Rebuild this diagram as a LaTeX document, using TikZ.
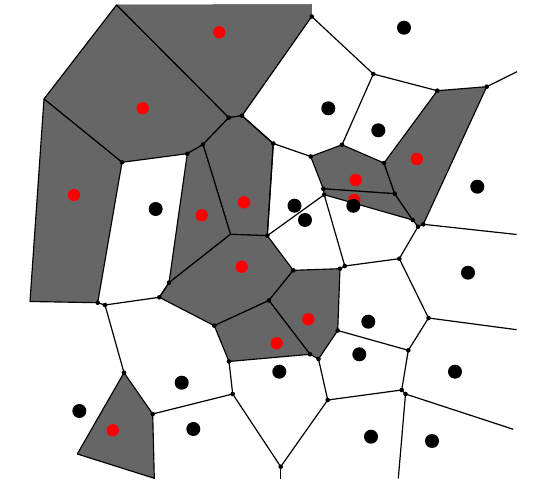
\documentclass[tikz,border=0pt]{standalone}
\definecolor{cellgray}{RGB}{102,102,102}
\definecolor{sitered}{RGB}{255,0,0}
\tikzset{
  cell/.style={fill=cellgray,draw=black,line width=1.15pt,line join=round},
  edge/.style={draw=black,line width=1.2pt},
  vdot/.style={fill=black},
  redsite/.style={fill=sitered},
  blacksite/.style={fill=black},
}
\begin{document}
\begin{tikzpicture}[x=1pt,y=-1pt]
\useasboundingbox[fill=white] (0,0) rectangle (547,489);
% vertices
\coordinate (A) at (116.5,5);
\coordinate (Tp) at (311.7,4.5);
\coordinate (P) at (311.7,16.5);
\coordinate (B) at (44,99);
\coordinate (C) at (228.7,117.7);
\coordinate (D) at (242,115.7);
\coordinate (E) at (273.3,143.5);
\coordinate (F) at (203,144.5);
\coordinate (G) at (187.3,153.7);
\coordinate (H) at (122,162.3);
\coordinate (I) at (230.5,234.3);
\coordinate (J) at (267.3,235.7);
\coordinate (L) at (30,301.5);
\coordinate (K) at (97.7,302.7);
\coordinate (K2) at (105,305);
\coordinate (N) at (159.3,297.3);
\coordinate (M) at (169,282.7);
\coordinate (Q) at (373.3,74);
\coordinate (R) at (437.3,90.7);
\coordinate (S) at (486.7,86.7);
\coordinate (Sb) at (517,71.7);
\coordinate (U) at (310.7,156.5);
\coordinate (V) at (342,144.8);
\coordinate (W) at (384,163);
\coordinate (X) at (323.3,188.8);
\coordinate (X2) at (324.2,194.7);
\coordinate (Y) at (394.7,193.7);
\coordinate (Z) at (412.7,220);
\coordinate (Z2) at (418,226.7);
\coordinate (Z3) at (423.3,224.3);
\coordinate (Z3b) at (516.7,234.5);
\coordinate (AA) at (293.3,270.3);
\coordinate (DD) at (340,268.7);
\coordinate (EE2) at (344.8,266);
\coordinate (II) at (399.3,258.7);
\coordinate (BB) at (268.9,300.5);
\coordinate (CC) at (214.3,325.7);
\coordinate (GG) at (310,354.3);
\coordinate (FF) at (318.5,359);
\coordinate (HH) at (229,361.5);
\coordinate (EE) at (337.7,330.5);
\coordinate (JJ) at (408.3,350.3);
\coordinate (KK) at (428.5,318);
\coordinate (KKb) at (516.7,329.7);
\coordinate (LL) at (401.7,390);
\coordinate (MM) at (405.5,394);
\coordinate (MMb) at (513.3,429.3);
\coordinate (MMd) at (398.3,478.5);
\coordinate (OO) at (327.7,400);
\coordinate (PP) at (280.7,466.7);
\coordinate (PPd) at (280.7,478.5);
\coordinate (QQ) at (232.7,394);
\coordinate (RR) at (152.7,414);
\coordinate (RRd) at (154.3,478.3);
\coordinate (SS) at (124,372.7);
\coordinate (TT) at (77.3,454);
% shaded cells
\filldraw[cell,draw=black!70,line width=0.5pt] (A) -- (Tp) -- (P) -- (D) -- (C) -- cycle;
\draw[edge] (P) -- (D) -- (C) -- (A);
\filldraw[cell] (A) -- (C) -- (F) -- (G) -- (H) -- (B) -- cycle;
\filldraw[cell] (B) -- (H) -- (K) -- (L) -- cycle;
\filldraw[cell] (F) -- (C) -- (D) -- (E) -- (J) -- (I) -- cycle;
\filldraw[cell] (G) -- (F) -- (I) -- (M) -- cycle;
\filldraw[cell] (I) -- (J) -- (AA) -- (BB) -- (CC) -- (N) -- (M) -- cycle;
\filldraw[cell] (AA) -- (DD) -- (EE) -- (FF) -- (GG) -- (BB) -- cycle;
\filldraw[cell] (BB) -- (GG) -- (HH) -- (CC) -- cycle;
\filldraw[cell] (U) -- (V) -- (W) -- (Y) -- (X) -- cycle;
\filldraw[cell] (X) -- (Y) -- (Z) -- (X2) -- cycle;
\filldraw[cell] (R) -- (S) -- (Z3) -- (Z2) -- (Z) -- (Y) -- (W) -- cycle;
\filldraw[cell] (SS) -- (RR) -- (RRd) -- (TT) -- cycle;
% edges
\draw[edge] (D) -- (E);
\draw[edge] (E) -- (J);
\draw[edge] (M) -- (N);
\draw[edge] (N) -- (K2);
\draw[edge] (K2) -- (K);
\draw[edge] (X2) -- (J);
\draw[edge] (X2) -- (EE2);
\draw[edge] (DD) -- (EE2);
\draw[edge] (E) -- (U);
\draw[edge] (V) -- (Q);
\draw[edge] (Q) -- (P);
\draw[edge] (Q) -- (R);
\draw[edge] (S) -- (Sb);
\draw[edge] (Z3) -- (Z3b);
\draw[edge] (Z2) -- (II);
\draw[edge] (II) -- (EE2);
\draw[edge] (II) -- (KK);
\draw[edge] (KK) -- (KKb);
\draw[edge] (KK) -- (JJ);
\draw[edge] (JJ) -- (EE);
\draw[edge] (JJ) -- (LL);
\draw[edge] (LL) -- (MM);
\draw[edge] (LL) -- (OO);
\draw[edge] (MM) -- (MMb);
\draw[edge] (MM) -- (MMd);
\draw[edge] (FF) -- (OO);
\draw[edge] (OO) -- (PP);
\draw[edge] (HH) -- (QQ);
\draw[edge] (QQ) -- (PP);
\draw[edge] (PP) -- (PPd);
\draw[edge] (QQ) -- (RR);
\draw[edge] (SS) -- (K2);
% vertex dots
\foreach \v in {C,D,E,F,G,H,J,P,K,K2,N,M,Q,R,S,U,V,W,X,X2,Y,Z,Z2,Z3,AA,DD,EE2,II,BB,CC,GG,FF,HH,EE,JJ,KK,LL,MM,OO,PP,QQ,RR,SS}
  \fill[vdot] (\v) circle (2.3pt);
% red sites
\foreach \p in {(219.3,32.3),(142.7,108.3),(74,195),(201.7,215.3),(244,202.3),(241.7,266.7),(308.3,319.3),(276.7,343.3),(355.7,180),(354.3,200),(416.7,159),(112.7,430.3)}
  \fill[redsite] \p circle (6.2pt);
% black sites
\foreach \p in {(155.7,209),(404,27.7),(328.3,108.3),(378.3,130.3),(477.3,186.7),(294.5,205.7),(305,220),(353.3,205.8),(468,272.7),(368.3,321.7),(359.3,354.3),(455,371.7),(371,436.7),(432,441),(279.3,371.7),(181.7,382.7),(193.3,429),(79.3,411)}
  \fill[blacksite] \p circle (7pt);
\end{tikzpicture}
\end{document}
